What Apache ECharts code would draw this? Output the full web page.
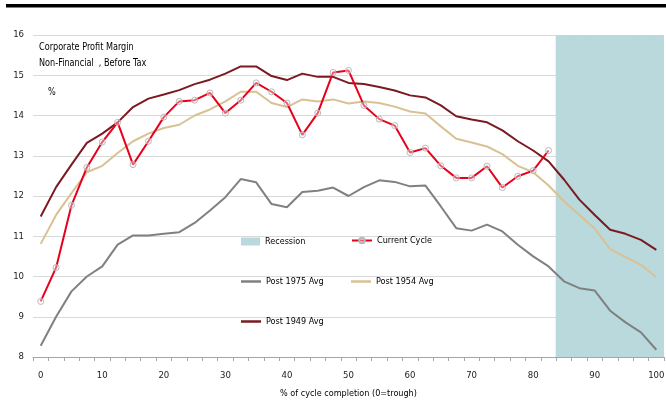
<!DOCTYPE html>
<html>
<head>
<meta charset="utf-8">
<script src="https://cdn.jsdelivr.net/npm/echarts@6/dist/echarts.min.js"></script>
<style>html,body{margin:0;padding:0;background:#fff}#c{width:666px;height:401px}</style>
</head>
<body>
<div id="c"></div>
<script>
var categories = ['0','2.5','5','7.5','10','12.5','15','17.5','20','22.5','25','27.5','30','32.5','35','37.5','40','42.5','45','47.5','50','52.5','55','57.5','60','62.5','65','67.5','70','72.5','75','77.5','80','82.5','85','87.5','90','92.5','95','97.5','100'];
var yTicks = [8, 16, 1];
var currentCycle = [9.38,10.22,11.77,12.71,13.34,13.83,12.78,13.36,13.96,14.35,14.38,14.56,14.06,14.38,14.81,14.59,14.31,13.52,14.06,15.07,15.12,14.25,13.91,13.75,13.08,13.19,12.75,12.45,12.45,12.74,12.21,12.49,12.63,13.13];
var post1975 = [8.28,9.0,9.63,10.0,10.25,10.79,11.02,11.02,11.06,11.1,11.33,11.64,11.97,12.42,12.34,11.8,11.72,12.1,12.13,12.21,12.0,12.22,12.39,12.35,12.24,12.26,11.74,11.2,11.14,11.29,11.12,10.79,10.5,10.25,9.88,9.71,9.65,9.15,8.86,8.61,8.18];
var post1954 = [10.81,11.53,12.07,12.59,12.75,13.07,13.36,13.55,13.69,13.77,14.0,14.15,14.35,14.59,14.59,14.31,14.21,14.4,14.35,14.4,14.3,14.35,14.31,14.22,14.1,14.05,13.73,13.42,13.33,13.23,13.04,12.75,12.59,12.26,11.87,11.53,11.19,10.68,10.48,10.29,9.98];
var post1949 = [11.49,12.22,12.78,13.32,13.55,13.83,14.21,14.42,14.52,14.63,14.78,14.89,15.04,15.22,15.22,14.98,14.88,15.04,14.96,14.96,14.81,14.78,14.71,14.62,14.5,14.45,14.25,13.98,13.9,13.83,13.63,13.36,13.13,12.86,12.41,11.91,11.53,11.16,11.06,10.91,10.66];
var recession = ['-','-','-','-','-','-','-','-','-','-','-','-','-','-','-','-','-','-','-','-','-','-','-','-','-','-','-','-','-','-','-','-','-','-',16,16,16,16,16,16,16];
var titleLines = ['Corporate Profit Margin', 'Non-Financial  , Before Tax', '%'];

var FONT = "'DejaVu Sans Condensed','Liberation Sans',sans-serif";
var chart = echarts.init(document.getElementById('c'), null, {renderer: 'canvas'});
function leg(name, left, top, extra) {
  return Object.assign({
    data: [name], left: left, top: top, orient: 'horizontal',
    itemWidth: 20, itemHeight: 7, padding: 0,
    textStyle: {fontFamily: FONT, fontSize: 9, color: '#000'},
    selectedMode: false
  }, extra || {});
}
function titleText(txt, left, top) {
  return {type: 'text', left: left, top: top, scaleX: 0.86, originX: 0,
          style: {text: txt, font: '10.5px ' + FONT, fill: '#000'}};
}
chart.setOption({
  animation: false,
  backgroundColor: '#fff',
  textStyle: {fontFamily: FONT},
  grid: {left: 33, right: 2, top: 35, bottom: 44, containLabel: false, outerBoundsMode: 'none'},
  graphic: [
    {type: 'rect', shape: {x: 6, y: 4, width: 660, height: 3.5}, style: {fill: '#000'}},
    titleText(titleLines[0], 39, 42),
    titleText(titleLines[1], 39, 58),
    titleText(titleLines[2], 48, 87)
  ],
  legend: [
    leg('Recession', 241, 237, {itemHeight: 8, itemWidth: 19, icon: 'rect'}),
    leg('Current Cycle', 351, 236),
    leg('Post 1975 Avg', 241, 277, {itemHeight: 2.5, icon: 'rect'}),
    leg('Post 1954 Avg', 351, 277, {itemHeight: 2.5, icon: 'rect'}),
    leg('Post 1949 Avg', 241, 317, {itemHeight: 2.5, icon: 'rect'})
  ],
  xAxis: {
    type: 'category', data: categories, boundaryGap: true,
    axisLine: {lineStyle: {color: '#a6a6a6', width: 1}},
    axisTick: {show: true, interval: 0, length: 4, lineStyle: {color: '#a6a6a6'}},
    axisLabel: {interval: 3, fontSize: 9.5, color: '#222', margin: 14, fontFamily: FONT},
    splitLine: {show: false},
    name: '% of cycle completion (0=trough)', nameLocation: 'middle', nameGap: 32,
    nameTextStyle: {fontSize: 9, color: '#000', fontFamily: FONT}
  },
  yAxis: {
    type: 'value', min: yTicks[0], max: yTicks[1], interval: yTicks[2],
    axisLine: {show: false}, axisTick: {show: false},
    axisLabel: {fontSize: 9.5, color: '#222', margin: 9, fontFamily: FONT},
    splitLine: {lineStyle: {color: '#d9d9d9', width: 1}}
  },
  series: [
    {name: 'Recession', type: 'bar', data: recession, barWidth: 16.5, barCategoryGap: '0%', clip: true,
     itemStyle: {color: '#b9d9dc'}, z: 1, silent: true},
    {name: 'Post 1975 Avg', type: 'line', data: post1975, symbol: 'none', showSymbol: false,
     lineStyle: {color: '#808080', width: 2}, itemStyle: {color: '#808080'}, z: 3},
    {name: 'Post 1954 Avg', type: 'line', data: post1954, symbol: 'none', showSymbol: false,
     lineStyle: {color: '#d9c193', width: 2}, itemStyle: {color: '#d9c193'}, z: 3},
    {name: 'Post 1949 Avg', type: 'line', data: post1949, symbol: 'none', showSymbol: false,
     lineStyle: {color: '#7b1a20', width: 2}, itemStyle: {color: '#7b1a20'}, z: 3},
    {name: 'Current Cycle', type: 'line', data: currentCycle, symbol: 'circle', symbolSize: 6, showSymbol: true,
     lineStyle: {color: '#e8001c', width: 2},
     itemStyle: {color: 'rgba(255,255,255,0.35)', borderColor: '#b8b8b8', borderWidth: 1}, z: 4}
  ]
});
</script>
</body>
</html>
